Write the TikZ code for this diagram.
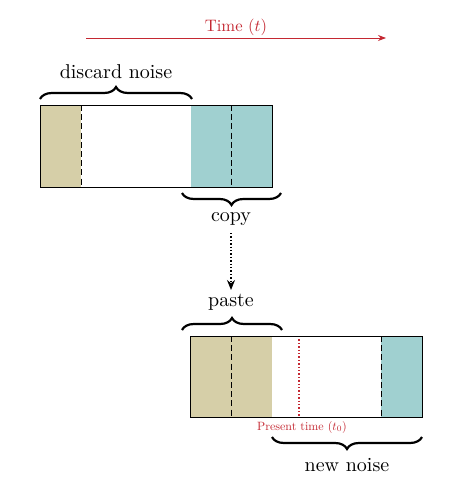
\documentclass[tikz,border=0pt]{standalone}
\usetikzlibrary{decorations.pathreplacing,arrows.meta}
\definecolor{tanc}{RGB}{214,207,168}
\definecolor{tealc}{RGB}{160,208,208}
\definecolor{redc}{RGB}{196,40,50}
\begin{document}
\begin{tikzpicture}[x=0.5pt,y=-0.5pt,
  box/.style={draw=black,line width=0.5pt},
  sep/.style={draw=black,line width=0.5pt,dash pattern=on 3pt off 1.6pt},
  bracedec/.style={decorate,decoration={brace,amplitude=6pt},line width=1.1pt},
  lab/.style={inner sep=1pt,font=\fontsize{10}{12}\selectfont}]
\useasboundingbox (0,0) rectangle (470,482);
% time arrow
\coordinate (ts) at (86,38);
\coordinate (te) at (386,38);
\draw[redc,line width=0.4pt,-{Stealth[length=4pt,width=3pt]}] (ts) -- (te);
\node[text=redc,font=\fontsize{10}{12}\selectfont] (time) at (236,27) {\scalebox{0.83}{Time ($t$)}};
% top box
\fill[tanc] (40,105) rectangle (81,187);
\fill[tealc] (191,105) rectangle (272,187);
\draw[sep] (81,105) -- (81,187);
\draw[sep] (231,105) -- (231,187);
\node[box,minimum width=116pt,minimum height=41pt,inner sep=0pt] (top) at (156,146) {};
% discard noise brace
\coordinate (d1) at (40,99);
\coordinate (d2) at (192,99);
\draw[bracedec] (d1) -- (d2);
\node[lab] (discard) at (116,72) {discard noise};
% copy brace
\coordinate (c1) at (281,193);
\coordinate (c2) at (182,193);
\draw[bracedec] (c1) -- (c2);
\node[lab] (copy) at (231,219) {copy};
% paste
\node[lab] (paste) at (231,302) {paste};
\coordinate (a1) at (231,233);
\coordinate (a2) at (231,290);
\draw[densely dotted,line width=0.7pt,-{Stealth[length=5pt,width=4pt]}] (a1) -- (a2);
\coordinate (p1) at (182,330);
\coordinate (p2) at (282,330);
\draw[bracedec] (p1) -- (p2);
% bottom box
\fill[tanc] (190,336) rectangle (272,417);
\fill[tealc] (381,336) rectangle (422,417);
\draw[sep] (231,336) -- (231,417);
\draw[sep] (381,336) -- (381,417);
\draw[redc,densely dotted,line width=0.7pt] (299,336) -- (299,417);
\node[box,minimum width=116pt,minimum height=40.5pt,inner sep=0pt] (bot) at (306,376.5) {};
\node[text=redc,font=\fontsize{10}{12}\selectfont] (present) at (302,427) {\scalebox{0.6}{Present time ($t_0$)}};
% new noise brace
\coordinate (n1) at (422,437);
\coordinate (n2) at (272,437);
\draw[bracedec] (n1) -- (n2);
\node[lab] (new) at (347,465) {new noise};
\end{tikzpicture}
\end{document}
